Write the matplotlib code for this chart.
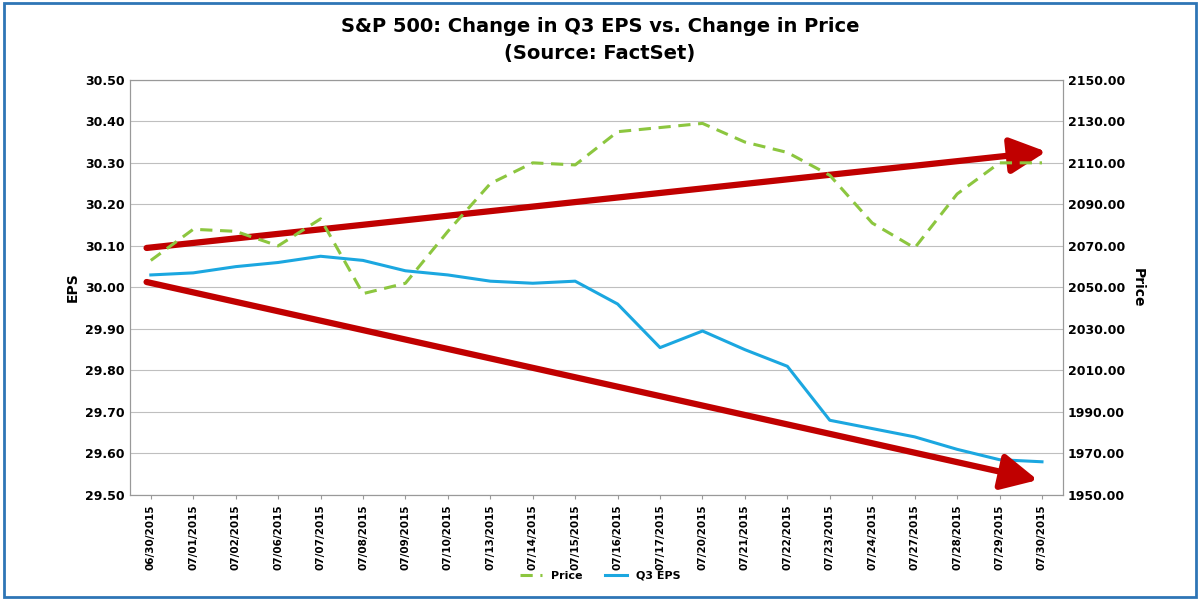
import matplotlib.pyplot as plt
import matplotlib.patches as mpatches

dates = ['06/30/2015', '07/01/2015', '07/02/2015', '07/06/2015', '07/07/2015', '07/08/2015',
         '07/09/2015', '07/10/2015', '07/13/2015', '07/14/2015', '07/15/2015', '07/16/2015',
         '07/17/2015', '07/20/2015', '07/21/2015', '07/22/2015', '07/23/2015', '07/24/2015',
         '07/27/2015', '07/28/2015', '07/29/2015', '07/30/2015']
eps = [30.03, 30.035, 30.05, 30.06, 30.075, 30.065, 30.04, 30.03, 30.015, 30.01, 30.015,
       29.96, 29.855, 29.895, 29.85, 29.81, 29.68, 29.66, 29.64, 29.61, 29.585, 29.58]
price = [2063, 2078, 2077, 2070, 2083, 2047, 2052, 2077, 2100, 2110, 2109,
         2125, 2127, 2129, 2120, 2115, 2104, 2081, 2069, 2095, 2110, 2110]

x = list(range(len(dates)))

fig = plt.figure(figsize=(12, 6), dpi=100)
ax = fig.add_axes([0.108, 0.175, 0.778, 0.692])
ax2 = ax.twinx()

l1, = ax2.plot(x, price, color='#8CC63F', lw=2.2, ls=(0, (4, 2.5)), label='Price')
l2, = ax.plot(x, eps, color='#1BA7E0', lw=2.2, label='Q3 EPS')

ax.set_xlim(-0.5, len(x) - 0.5)
ax.set_ylim(29.5, 30.5)
ax2.set_ylim(1950, 2150)
ax.set_yticks([29.5 + 0.1 * i for i in range(11)])
ax.set_yticklabels([f'{29.5 + 0.1 * i:.2f}' for i in range(11)], fontweight='bold')
ax2.set_yticks(range(1950, 2151, 20))
ax2.set_yticklabels([f'{v:.2f}' for v in range(1950, 2151, 20)], fontweight='bold')
ax.set_xticks(x)
ax.set_xticklabels(dates, rotation=90, fontsize=7.5, fontweight='bold')
for a in (ax, ax2):
    a.tick_params(axis='y', labelsize=9, length=0)
    for s in a.spines.values():
        s.set_color('#999999')
ax.tick_params(axis='x', length=3, color='#999999')
ax.grid(axis='y', color='#bfbfbf', lw=0.8)
ax.set_ylabel('EPS', fontweight='bold', fontsize=10)
ax2.set_ylabel('Price', fontweight='bold', fontsize=10, rotation=270, labelpad=14)

# trend arrows
arrow = dict(arrowstyle='-|>,head_width=1.1,head_length=2.2', color='#C00000', lw=4.5,
             shrinkA=0, shrinkB=0)
ax.annotate('', xy=(21.1, 30.327), xytext=(-0.1, 30.095), arrowprops=arrow)
ax.annotate('', xy=(20.9, 29.536), xytext=(-0.1, 30.013), arrowprops=arrow)

fig.text(0.5, 0.955, 'S&P 500: Change in Q3 EPS vs. Change in Price', ha='center', va='center',
         fontsize=14, fontweight='bold')
fig.text(0.5, 0.91, '(Source: FactSet)', ha='center', va='center', fontsize=14, fontweight='bold')
fig.legend(handles=[l1, l2], loc='center', bbox_to_anchor=(0.5, 0.04), ncol=2, frameon=False,
           fontsize=8, prop={'weight': 'bold', 'size': 8})

fig.patches.append(mpatches.Rectangle((0.003, 0.005), 0.994, 0.99, transform=fig.transFigure,
                                      fill=False, edgecolor='#2E75B6', lw=2))
fig.savefig('out.png', dpi=100)
